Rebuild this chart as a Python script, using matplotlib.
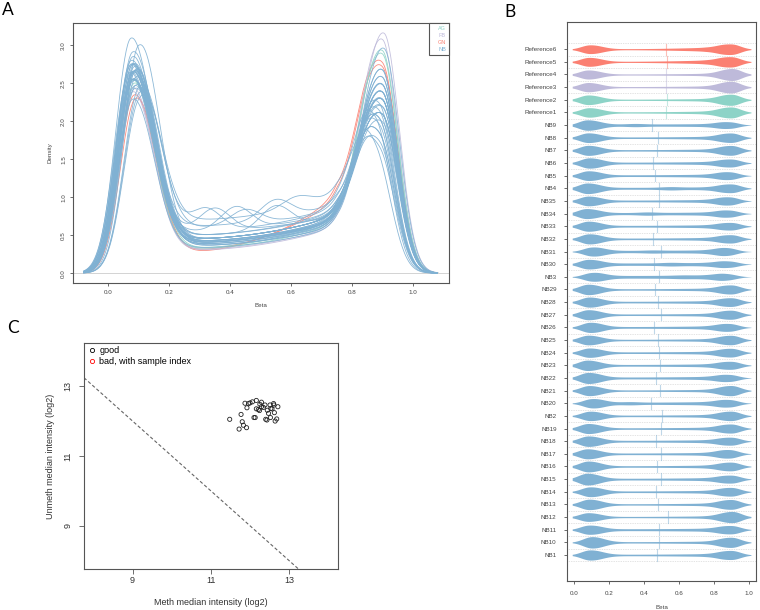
import numpy as np
from matplotlib import pyplot as plt
from matplotlib.lines import Line2D

plt.rcParams['font.family'] = ['Liberation Sans', 'DejaVu Sans']

# samples, top row of panel B first
samples = ['Reference6', 'Reference5', 'Reference4', 'Reference3', 'Reference2', 'Reference1',
           'NB9', 'NB8', 'NB7', 'NB6', 'NB5', 'NB4', 'NB35', 'NB34', 'NB33', 'NB32', 'NB31',
           'NB30', 'NB3', 'NB29', 'NB28', 'NB27', 'NB26', 'NB25', 'NB24', 'NB23', 'NB22',
           'NB21', 'NB20', 'NB2', 'NB19', 'NB18', 'NB17', 'NB16', 'NB15', 'NB14', 'NB13',
           'NB12', 'NB11', 'NB10', 'NB1']
groups = ['GN', 'GN', 'FB', 'FB', 'AG', 'AG'] + ['NB'] * 35
group_names = ['AG', 'FB', 'GN', 'NB']
group_colors = {'AG': '#8DD3C7', 'FB': '#BEBADA', 'GN': '#FB8072', 'NB': '#80B1D3'}

left_pos = [0.09, 0.085, 0.08, 0.08, 0.08, 0.085,
            0.075, 0.08, 0.08, 0.085, 0.08, 0.075, 0.08, 0.07, 0.08, 0.085, 0.1, 0.08,
            0.1, 0.08, 0.085, 0.08, 0.09, 0.08, 0.085, 0.075, 0.08, 0.085, 0.1, 0.09,
            0.08, 0.08, 0.075, 0.08, 0.075, 0.09, 0.085, 0.08, 0.085, 0.1, 0.09]
left_peak = [2.25, 2.3, 2.35, 2.4, 2.5, 2.45,
             2.7, 2.5, 2.6, 2.65, 2.5, 2.75, 2.5, 2.6, 2.6, 2.6, 2.2, 2.45,
             2.1, 2.7, 2.6, 2.6, 2.6, 2.5, 2.4, 2.7, 2.85, 2.6, 2.3, 2.4,
             2.6, 2.7, 2.6, 2.8, 3.05, 2.5, 2.7, 2.25, 2.35, 2.9, 2.6]
right_pos = [0.9, 0.9, 0.905, 0.9, 0.9, 0.9,
             0.89, 0.9, 0.9, 0.9, 0.89, 0.9, 0.89, 0.89, 0.9, 0.9, 0.88, 0.89,
             0.88, 0.9, 0.9, 0.9, 0.89, 0.9, 0.9, 0.9, 0.89, 0.9, 0.89, 0.9,
             0.9, 0.9, 0.89, 0.9, 0.9, 0.9, 0.9, 0.905, 0.9, 0.9, 0.9]
right_peak = [2.65, 2.6, 3.1, 3.0, 2.85, 2.8,
              1.6, 2.4, 2.5, 2.0, 1.9, 2.2, 2.0, 1.7, 1.9, 2.1, 1.8, 1.5,
              1.4, 2.3, 2.2, 2.3, 1.9, 2.4, 2.2, 2.0, 1.7, 2.6, 1.8, 2.4,
              2.3, 2.0, 2.1, 2.2, 2.0, 2.2, 2.5, 2.9, 2.1, 2.6, 2.3]
trough = [0.28, 0.3, 0.3, 0.31, 0.32, 0.33,
          0.55, 0.4, 0.38, 0.45, 0.45, 0.5, 0.45, 0.55, 0.45, 0.42, 0.6, 0.62,
          0.7, 0.38, 0.42, 0.4, 0.45, 0.38, 0.42, 0.45, 0.5, 0.36, 0.55, 0.4,
          0.4, 0.45, 0.42, 0.4, 0.45, 0.42, 0.36, 0.33, 0.5, 0.36, 0.4]
shoulder = [1.0, 0.95, 0.6, 0.62, 0.65, 0.7,
            0.75, 0.7, 0.65, 0.75, 0.75, 0.75, 0.75, 0.8, 0.75, 0.72, 0.85, 0.9,
            1.0, 0.68, 0.7, 0.68, 0.75, 0.66, 0.7, 0.75, 0.8, 0.62, 0.85, 0.68,
            0.68, 0.75, 0.72, 0.7, 0.75, 0.7, 0.65, 0.6, 0.78, 0.62, 0.7]
hump_pos = [0.5, 0.5, 0.5, 0.5, 0.5, 0.5,
            0.35, 0.5, 0.5, 0.5, 0.5, 0.55, 0.5, 0.42, 0.5, 0.5, 0.45, 0.55,
            0.62, 0.5, 0.5, 0.5, 0.5, 0.5, 0.5, 0.5, 0.5, 0.5, 0.32, 0.5,
            0.5, 0.5, 0.5, 0.5, 0.5, 0.5, 0.5, 0.5, 0.5, 0.5, 0.5]
hump_ht = [0, 0, 0, 0, 0, 0,
           0.3, 0, 0, 0, 0, 0.3, 0, 0.3, 0, 0, 0.2, 0.25,
           0.15, 0, 0, 0, 0, 0, 0, 0, 0, 0, 0.3, 0,
           0, 0, 0, 0, 0, 0, 0, 0, 0, 0, 0]
medians = [0.523, 0.532, 0.523, 0.523, 0.532, 0.528,
           0.447, 0.479, 0.472, 0.453, 0.46, 0.487, 0.483, 0.447, 0.472, 0.453, 0.496,
           0.458, 0.485, 0.464, 0.481, 0.496, 0.458, 0.477, 0.487, 0.492, 0.47,
           0.492, 0.44, 0.502, 0.494, 0.47, 0.498, 0.472, 0.496, 0.47, 0.479,
           0.538, 0.483, 0.483, 0.474]

# panel C: median intensities (log2)
meth = [11.48, 11.72, 11.77, 11.80, 11.83, 11.91, 11.92, 11.96, 12.00, 12.06, 12.13, 12.16,
        12.16, 12.21, 12.24, 12.25, 12.29, 12.29, 12.34, 12.38, 12.43, 12.44, 12.47, 12.51,
        12.52, 12.56, 12.60, 12.61, 12.62, 12.64, 12.68, 12.71, 12.10, 11.87, 12.40, 12.53]
unmeth = [12.05, 11.77, 12.19, 11.98, 11.88, 11.81, 12.38, 12.50, 12.52, 12.55, 12.10, 12.35,
          12.59, 12.33, 12.30, 12.48, 12.54, 12.41, 12.39, 12.46, 12.03, 12.31, 12.22, 12.46,
          12.10, 12.35, 12.50, 12.46, 12.24, 12.00, 12.06, 12.41, 12.10, 12.51, 12.05, 12.36]
bad_cutoff = 10.5


def density(x, i):
    sd_l = np.where(x < left_pos[i], 0.05, 0.065)
    sd_r = np.where(x > right_pos[i], 0.05, 0.065)
    left = left_peak[i] * np.exp(-0.5 * ((x - left_pos[i]) / sd_l) ** 2)
    right = right_peak[i] * np.exp(-0.5 * ((x - right_pos[i]) / sd_r) ** 2)
    frac = np.clip((x - 0.25) / 0.5, 0, 1) ** 2
    level = trough[i] + (shoulder[i] - trough[i]) * frac
    window = 1 / (1 + np.exp(-(x - 0.12) / 0.02)) / (1 + np.exp(-(0.86 - x) / 0.02))
    hump = hump_ht[i] * np.exp(-0.5 * ((x - hump_pos[i]) / 0.05) ** 2)
    return left + right + level * window + hump


fig = plt.figure(figsize=(7.6, 6.1), dpi=100)
axA = fig.add_axes([0.096, 0.536, 0.495, 0.426])
axB = fig.add_axes([0.746, 0.0475, 0.249, 0.916])
axC = fig.add_axes([0.1105, 0.067, 0.334, 0.371])

edge = '#555555'
for ax in (axA, axB, axC):
    for s in ax.spines.values():
        s.set_color(edge)
        s.set_linewidth(0.8)

# ---- A: density plot
xa = np.linspace(-0.08, 1.08, 500)
order = [i for i in range(len(samples)) if groups[i] != 'NB'] + \
        [i for i in range(len(samples)) if groups[i] == 'NB']
for i in order:
    axA.plot(xa, density(xa, i), color=group_colors[groups[i]], lw=0.6, alpha=0.9)
axA.axhline(0, color='#cccccc', lw=0.6, zorder=0)
axA.set_xlim(-0.115, 1.118)
axA.set_ylim(-0.13, 3.29)
xt = np.arange(0, 1.01, 0.2)
axA.set_xticks(xt, labels=['%.1f' % t for t in xt])
yt = np.arange(0, 3.01, 0.5)
axA.set_yticks(yt, labels=['%.1f' % t for t in yt], rotation=90, va='center')
axA.tick_params(labelsize=4.5, length=2.5, width=0.6, color=edge, labelcolor='#444444', pad=2.5)
axA.set_xlabel('Beta', fontsize=4.5, color='#444444', labelpad=6)
axA.set_ylabel('Density', fontsize=4.5, color='#444444', labelpad=6)
handles = [Line2D([], [], lw=0) for g in group_names]
leg = axA.legend(handles, group_names, loc='upper right', fontsize=4, borderaxespad=0,
                 labelcolor=[group_colors[g] for g in group_names], fancybox=False,
                 edgecolor=edge, framealpha=1, handlelength=1.0, handletextpad=0.2,
                 labelspacing=0.35, borderpad=0.5)
leg.get_frame().set_linewidth(0.8)

# ---- B: bean plot
rows = np.arange(len(samples), 0, -1)
xb = np.linspace(-0.01, 1.01, 400)
scale = 0.15
for r in np.arange(0.5, len(samples) + 1, 1.0):
    axB.axhline(r, color='#c8c8c8', lw=0.5, ls=(0, (1, 1.5)), zorder=0)
for i, r in enumerate(rows):
    c = group_colors[groups[i]]
    f = density(xb, i) * scale
    axB.fill_between(xb, r - f, r + f, color=c, lw=0)
    axB.plot([medians[i], medians[i]], [r - 0.45, r + 0.45], color=c, lw=0.8, alpha=0.5)
axB.set_xlim(-0.04, 1.04)
axB.set_ylim(-1.06, len(samples) + 2.13)
axB.set_yticks(rows, labels=samples)
axB.set_xticks(xt, labels=['%.1f' % t for t in xt])
axB.tick_params(labelsize=4.5, length=2.5, width=0.6, color=edge, labelcolor='#444444')
axB.tick_params(axis='y', pad=5)
axB.tick_params(axis='x', pad=5)
axB.set_xlabel('Beta', fontsize=4.5, color='#444444', labelpad=6)

# ---- C: QC plot
axC.scatter(meth, unmeth, s=9, facecolors='none', edgecolors='#222222', linewidths=0.6)
axC.axline((0, bad_cutoff * 2), slope=-1, color='#666666', lw=0.8, ls=(0, (3, 2)))
axC.set_xlim(7.76, 14.24)
axC.set_ylim(7.76, 14.24)
axC.set_xticks([9, 11, 13])
axC.set_yticks([9, 11, 13], labels=['9', '11', '13'], rotation=90, va='center')
axC.tick_params(labelsize=6.5, length=3.5, width=0.6, color=edge, labelcolor='#333333')
axC.tick_params(axis='x', pad=1.5)
axC.tick_params(axis='y', pad=5)
axC.set_xlabel('Meth median intensity (log2)', fontsize=6.5, color='#333333', labelpad=9)
axC.set_ylabel('Unmeth median intensity (log2)', fontsize=6.5, color='#333333', labelpad=6)
ch = [Line2D([], [], marker='o', ls='none', mfc='none', mec='black', ms=3, mew=0.6),
      Line2D([], [], marker='o', ls='none', mfc='none', mec='red', ms=3, mew=0.6)]
axC.legend(ch, ['good', 'bad, with sample index'], loc='upper left', frameon=False,
           fontsize=6.5, handletextpad=0.3, handlelength=1.0, borderaxespad=0.2,
           labelspacing=0.15, borderpad=0.2)

# panel letters
fig.text(0.003, 0.997, 'A', fontsize=12.5, va='top', family='Lato')
fig.text(0.664, 0.994, 'B', fontsize=12.5, va='top', family='Lato')
fig.text(0.009, 0.475, 'C', fontsize=12.5, va='top', family='Lato')

fig.savefig('out.png', dpi=100)
